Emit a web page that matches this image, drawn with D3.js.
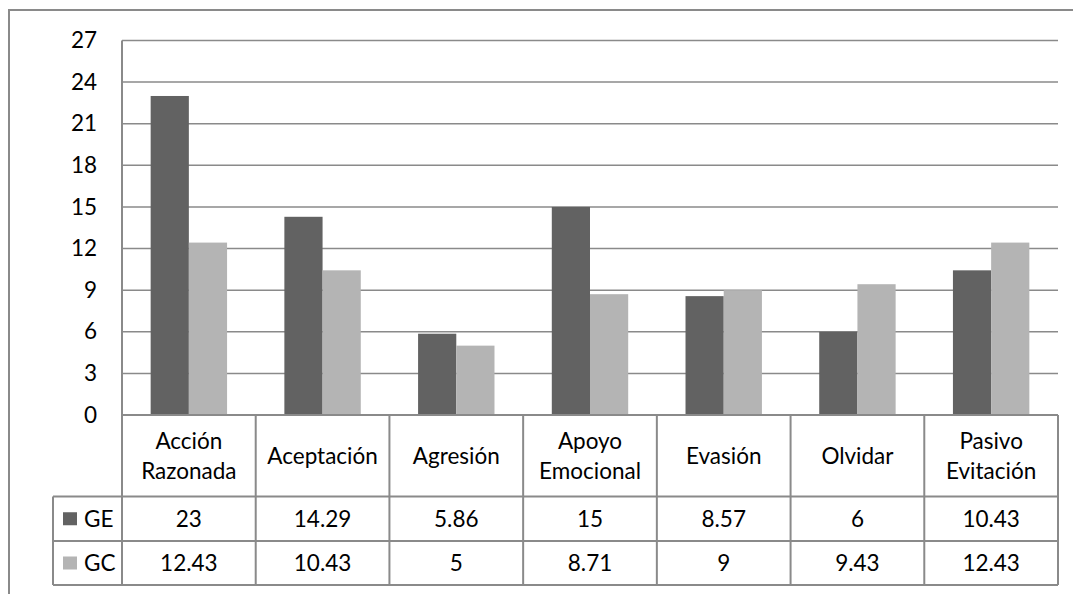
<!DOCTYPE html>
<html>
<head>
<meta charset="utf-8">
<script src="https://cdn.jsdelivr.net/npm/d3@7"></script>
<style>
  html, body { margin: 0; padding: 0; background: #fff; }
  svg { display: block; font-family: Lato, "Open Sans", sans-serif; }
</style>
</head>
<body>
<svg id="chart" width="1073" height="594"></svg>
<script>
// Coping strategies: experimental group (GE) vs control group (GC)
const categories = [
  ["Acción", "Razonada"],
  ["Aceptación"],
  ["Agresión"],
  ["Apoyo", "Emocional"],
  ["Evasión"],
  ["Olvidar"],
  ["Pasivo", "Evitación"]
];
const seriesNames = ["GE", "GC"];
const seriesGE = [23, 14.29, 5.86, 15, 8.57, 6, 10.43];
const seriesGC = [12.43, 10.43, 5, 8.71, 9, 9.43, 12.43];
const geLabels = ["23", "14.29", "5.86", "15", "8.57", "6", "10.43"];
const gcLabels = ["12.43", "10.43", "5", "8.71", "9", "9.43", "12.43"];
const yTicks = [0, 3, 6, 9, 12, 15, 18, 21, 24, 27];

const colors = { GE: "#626262", GC: "#b4b4b4" };
const lineColor = "#8a8a8a";
const fontSize = 22.5;

const svg = d3.select("#chart");

const plot = { left: 122, right: 1058, top: 40.5, bottom: 415 };
const table = { headerBottom: 496.5, row1Bottom: 541, row2Bottom: 585, legendLeft: 53 };

const catKeys = categories.map(c => c.join(" "));
const x = d3.scaleBand().domain(catKeys).range([plot.left, plot.right]).paddingInner(0).paddingOuter(0);
const xs = d3.scaleBand().domain(seriesNames).range([0, x.bandwidth()]).paddingInner(0).paddingOuter(0.75);
const y = d3.scaleLinear().domain([0, 27]).range([plot.bottom, plot.top]);

// Outer chart frame (top and left edges visible)
svg.append("path")
  .attr("d", `M9,594 L9,10 L1073,10`)
  .attr("fill", "none").attr("stroke", lineColor).attr("stroke-width", 2);

// Horizontal gridlines
svg.append("g").selectAll("line").data(yTicks.filter(t => t > 0)).join("line")
  .attr("x1", plot.left).attr("x2", plot.right)
  .attr("y1", d => y(d)).attr("y2", d => y(d))
  .attr("stroke", lineColor).attr("stroke-width", 1.5);

// Y axis labels
const yAxis = d3.axisLeft(y).tickValues(yTicks).tickSize(0).tickPadding(25).tickFormat(d3.format("d"));
const yG = svg.append("g").attr("transform", `translate(${plot.left},0)`).call(yAxis);
yG.select(".domain").remove();
yG.selectAll("text").attr("font-size", fontSize).attr("fill", "#000").attr("font-family", "Lato, sans-serif");

// Bars
const data = catKeys.map((k, i) => ({ key: k, GE: seriesGE[i], GC: seriesGC[i] }));
const groups = svg.append("g").selectAll("g").data(data).join("g")
  .attr("transform", d => `translate(${x(d.key)},0)`);
groups.selectAll("rect").data(d => seriesNames.map(s => ({ s, v: d[s] }))).join("rect")
  .attr("x", d => xs(d.s))
  .attr("width", xs.bandwidth())
  .attr("y", d => y(d.v))
  .attr("height", d => y(0) - y(d.v))
  .attr("fill", d => colors[d.s]);

// Y axis line
svg.append("line")
  .attr("x1", plot.left).attr("x2", plot.left)
  .attr("y1", plot.top).attr("y2", table.row2Bottom)
  .attr("stroke", lineColor).attr("stroke-width", 2);

// Data table grid
const grid = svg.append("g").attr("stroke", lineColor).attr("stroke-width", 2).attr("fill", "none");
grid.append("line").attr("x1", plot.left).attr("x2", plot.right).attr("y1", plot.bottom).attr("y2", plot.bottom);
[table.headerBottom, table.row1Bottom, table.row2Bottom].forEach(yy => {
  grid.append("line").attr("x1", table.legendLeft).attr("x2", plot.right).attr("y1", yy).attr("y2", yy);
});
grid.append("line").attr("x1", table.legendLeft).attr("x2", table.legendLeft)
  .attr("y1", table.headerBottom).attr("y2", table.row2Bottom);
catKeys.forEach(k => {
  const xx = x(k) + x.bandwidth();
  grid.append("line").attr("x1", xx).attr("x2", xx).attr("y1", plot.bottom).attr("y2", table.row2Bottom);
});

// Category header labels
const headerMid = (plot.bottom + table.headerBottom) / 2;
const lineH = 30;
const hdr = svg.append("g").attr("font-size", fontSize).attr("fill", "#000").attr("text-anchor", "middle");
categories.forEach((lines, i) => {
  const cx = x(catKeys[i]) + x.bandwidth() / 2;
  const t = hdr.append("text").attr("x", cx);
  lines.forEach((ln, j) => {
    const yy = headerMid + (j - (lines.length - 1) / 2) * lineH + 8;
    t.append("tspan").attr("x", cx).attr("y", yy).text(ln);
  });
});

// Value rows with legend keys
const rows = [
  { name: "GE", labels: geLabels, top: table.headerBottom, bottom: table.row1Bottom },
  { name: "GC", labels: gcLabels, top: table.row1Bottom, bottom: table.row2Bottom }
];
rows.forEach(r => {
  const mid = (r.top + r.bottom) / 2;
  svg.append("rect").attr("x", 63).attr("y", mid - 6.5).attr("width", 14).attr("height", 13).attr("fill", colors[r.name]);
  svg.append("text").attr("x", 84).attr("y", mid + 8).attr("font-size", fontSize).attr("fill", "#000").text(r.name);
  svg.append("g").attr("font-size", fontSize).attr("text-anchor", "middle").selectAll("text")
    .data(r.labels).join("text")
    .attr("x", (d, i) => x(catKeys[i]) + x.bandwidth() / 2)
    .attr("y", mid + 8)
    .attr("fill", "#000")
    .text(d => d);
});
</script>
</body>
</html>
